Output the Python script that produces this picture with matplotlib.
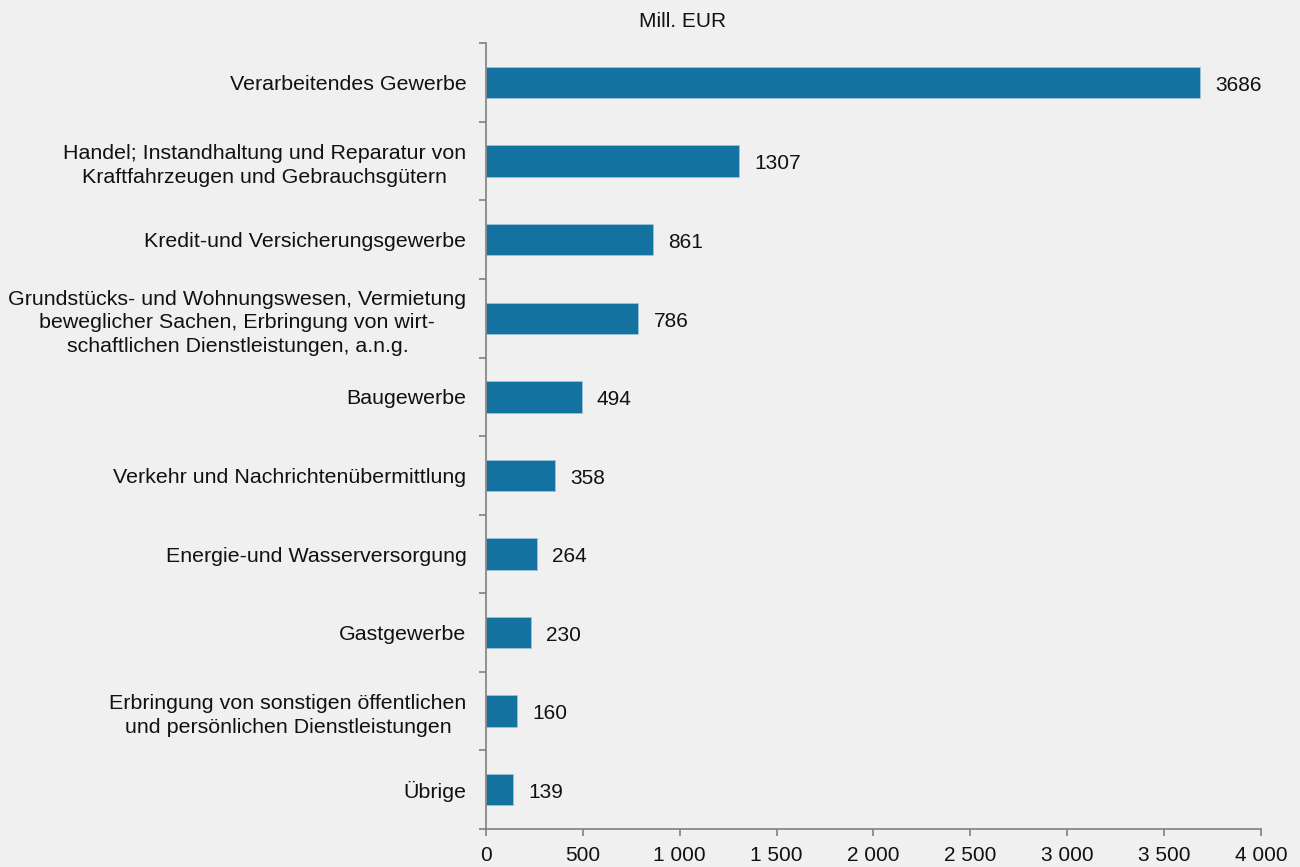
import matplotlib.pyplot as plt
from matplotlib.ticker import FuncFormatter, FixedLocator

plt.rcParams['font.family'] = ['Liberation Sans', 'DejaVu Sans']

categories = [
    "Verarbeitendes Gewerbe",
    "Handel; Instandhaltung und Reparatur von\nKraftfahrzeugen und Gebrauchsgütern",
    "Kredit-und Versicherungsgewerbe",
    "Grundstücks- und Wohnungswesen, Vermietung\nbeweglicher Sachen, Erbringung von wirt-\nschaftlichen Dienstleistungen, a.n.g.",
    "Baugewerbe",
    "Verkehr und Nachrichtenübermittlung",
    "Energie-und Wasserversorgung",
    "Gastgewerbe",
    "Erbringung von sonstigen öffentlichen\nund persönlichen Dienstleistungen",
    "Übrige",
]
values = [3686, 1307, 861, 786, 494, 358, 264, 230, 160, 139]
x_ticks = [0, 500, 1000, 1500, 2000, 2500, 3000, 3500, 4000]

bg = "#eff0ef"
bar_color = "#13729f"
axis_color = "#808080"
fs = 15

fig = plt.figure(figsize=(13, 8.67), dpi=100, facecolor=bg)
ax = fig.add_axes([0.3738, 0.0438, 0.5962, 0.9062], facecolor=bg)

pos = list(range(len(categories)))
ax.barh(pos, values, height=0.4, color=bar_color, edgecolor="#9cc3d8", linewidth=0.6)

for p, v in zip(pos, values):
    ax.annotate(str(v), (v, p), xytext=(11, -2), textcoords="offset points",
                va="center", ha="left", fontsize=fs, color="#111111")

ax.set_ylim(len(categories) - 0.5, -0.5)
ax.set_xlim(0, 4000)

ax.set_yticks(pos)
ax.set_yticklabels(categories, fontsize=15.4, multialignment="center", color="#111111",
                   linespacing=1.3)
ax.yaxis.set_minor_locator(FixedLocator([i - 0.5 for i in range(len(categories) + 1)]))
ax.tick_params(axis="y", which="major", length=0, pad=14)
ax.tick_params(axis="y", which="minor", length=5, color=axis_color, width=1.2, direction="out")

ax.set_xticks(x_ticks)
ax.xaxis.set_major_formatter(FuncFormatter(lambda v, _: f"{int(v):,}".replace(",", " ")))
ax.tick_params(axis="x", length=5, color=axis_color, width=1.2, labelsize=fs, pad=7,
               labelcolor="#111111")

for s in ["top", "right"]:
    ax.spines[s].set_visible(False)
for s in ["left", "bottom"]:
    ax.spines[s].set_color(axis_color)
    ax.spines[s].set_linewidth(1.2)

fig.text(0.525, 0.975, "Mill. EUR", ha="center", va="center", fontsize=fs, color="#111111")

fig.savefig("out.png", dpi=100, facecolor=bg)
